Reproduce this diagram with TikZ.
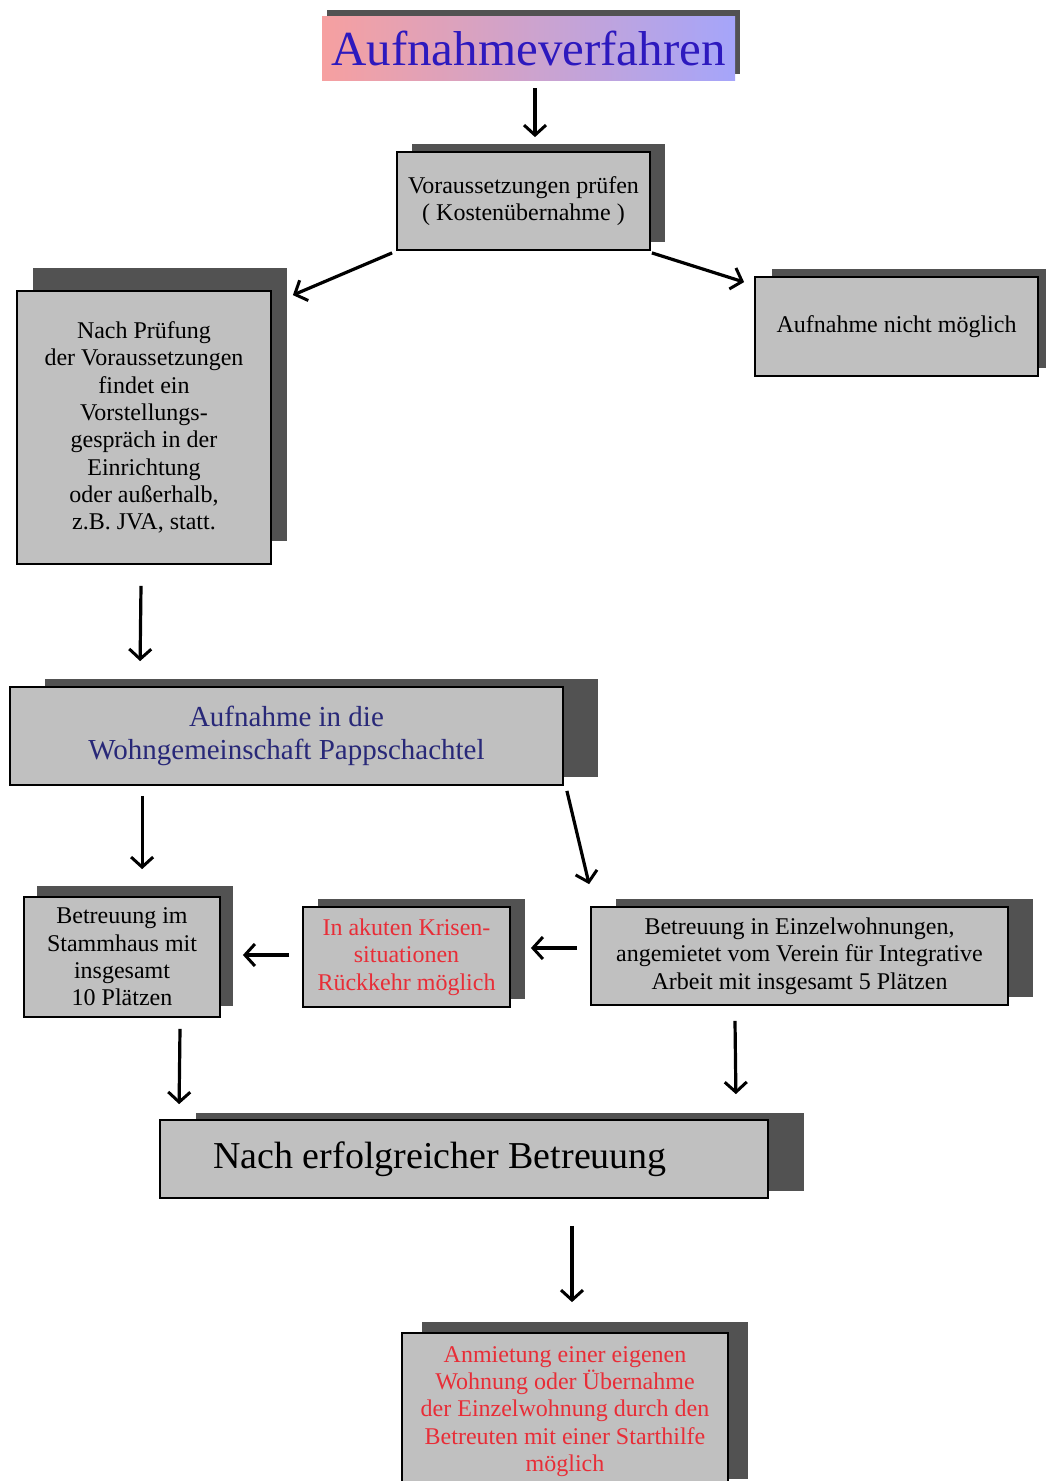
\documentclass[tikz,border=0pt]{standalone}
\usepackage{fontspec}
\setmainfont{Liberation Serif}
\usetikzlibrary{arrows.meta,shadows,calc}
\definecolor{boxgray}{RGB}{192,192,192}
\definecolor{shadowgray}{RGB}{82,82,82}
\definecolor{tpink}{RGB}{246,160,160}
\definecolor{tblue}{RGB}{165,165,250}
\definecolor{ttext}{RGB}{45,25,190}
\definecolor{navy}{RGB}{40,40,120}
\definecolor{redtext}{RGB}{232,45,55}
\begin{document}
\begin{tikzpicture}[x=1pt,y=-1pt,
  box/.style={draw=black, line width=1.8pt, fill=boxgray, align=center, inner sep=0pt,
    font=\fontsize{24}{27.3}\selectfont, text=black},
  shd/.style 2 args={general shadow={fill=shadowgray, draw=none, shadow xshift=#1pt, shadow yshift=#2pt}},
  arr/.style={-{Straight Barb[length=10pt,width=22pt,line width=3pt]}, line width=3.2pt, black}]
\clip (0,0) rectangle (1046,1481);
\fill[white] (0,0) rectangle (1046,1481);

% title
\node[draw=none, left color=tpink, right color=tblue, minimum width=413, minimum height=64,
  inner sep=0pt, text=ttext, font=\fontsize{49}{55}\selectfont, shd={5}{6}]
  (title) at (528.5,48) {Aufnahmeverfahren};

\node[box, minimum width=253, minimum height=98, shd={15}{8}] (vor) at (523.5,201)
  {Voraussetzungen prüfen\\( Kostenübernahme )};

\node[box, minimum width=254, minimum height=273, shd={16}{23}] (pruef) at (144,427.5)
  {Nach Prüfung\\der Voraussetzungen\\findet ein\\Vorstellungs-\\gespräch in der\\Einrichtung\\oder außerhalb,\\z.B. JVA, statt.};

\node[box, minimum width=283, minimum height=99, shd={17}{8}] (nicht) at (896.5,326.5)
  {Aufnahme nicht möglich};

\node[box, minimum width=553, minimum height=98, shd={35}{8}, text=navy,
  font=\fontsize{29}{33}\selectfont] (wg) at (286.5,736)
  {Aufnahme in die\\Wohngemeinschaft Pappschachtel};

\node[box, minimum width=196, minimum height=120, shd={13}{11}] (stamm) at (122,957)
  {Betreuung im\\Stammhaus mit\\insgesamt\\10 Plätzen};

\node[box, minimum width=207, minimum height=100, shd={15}{8}, text=redtext] (krise) at (406.5,957)
  {In akuten Krisen-\\situationen\\Rückkehr möglich};

\node[box, minimum width=417, minimum height=98, shd={25}{8}] (einzel) at (799.5,956)
  {Betreuung in Einzelwohnungen,\\angemietet vom Verein für Integrative\\Arbeit mit insgesamt 5 Plätzen};

\node[box, minimum width=608, minimum height=78, shd={36}{7},
  font=\fontsize{38}{42}\selectfont] (nach) at (464,1159)
  {\hspace*{-48pt}Nach erfolgreicher Betreuung};

\node[box, minimum width=326, minimum height=157, shd={20}{11}, text=redtext] (final) at (565,1411.5)
  {Anmietung einer eigenen\\Wohnung oder Übernahme\\der Einzelwohnung durch den\\Betreuten mit einer Starthilfe\\möglich};

% connectors
\draw[arr] ($(title.south)+(6.5,8)$) -- ($(vor.north)+(11.5,-14)$);
\draw[arr] ($(vor.south west)+(-4,2)$) -- ($(pruef.north east)+(21,5)$);
\draw[arr] ($(vor.south east)+(1,2)$) -- ($(nicht.north west)+(-10,6)$);
\draw[arr] ($(pruef.south)+(-3,21)$) -- ($(wg.north west)+(131,-25)$);
\draw[arr] ($(wg.south west)+(133,10)$) -- ($(stamm.north west)+(119,-27)$);
\draw[arr] ($(wg.south east)+(3,5)$) -- ($(einzel.north west)+(-1,-22)$);
\draw[arr] ($(einzel.west)+(-13,-8)$) -- ($(krise.east)+(20,-9)$);
\draw[arr] ($(krise.west)+(-13,-2)$) -- ($(stamm.east)+(22,-2)$);
\draw[arr] ($(stamm.south)+(58,11)$) -- ($(nach.north west)+(20,-15)$);
\draw[arr] ($(einzel.south)+(-64.5,15)$) -- ($(nach.north east)+(-33,-25)$);
\draw[arr] ($(nach.south)+(108,27)$) -- ($(final.north)+(7,-30)$);
\end{tikzpicture}
\end{document}
